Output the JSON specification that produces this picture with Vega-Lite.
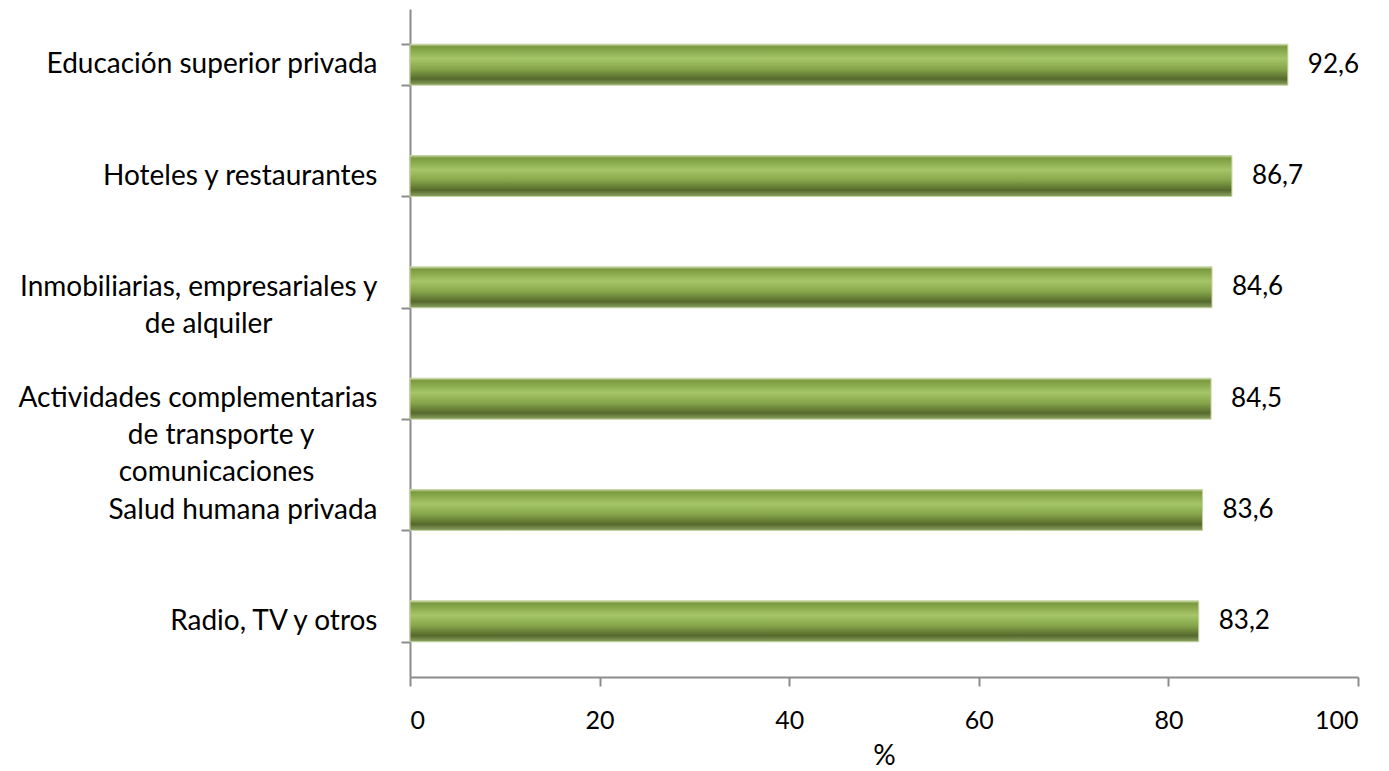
{
  "$schema": "https://vega.github.io/schema/vega-lite/v6.json",
  "width": 948,
  "height": 668,
  "autosize": "none",
  "padding": {"left": 410, "top": 9, "right": 31, "bottom": 94},
  "background": "white",
  "config": {
    "view": {"stroke": null},
    "font": "Lato",
    "locale": {"number": {"decimal": ",", "thousands": ".", "grouping": [3], "currency": ["", " €"]}}
  },
  "data": {
    "values": [
      {"sector": "Educación superior privada", "pct": 92.6},
      {"sector": "Hoteles y restaurantes", "pct": 86.7},
      {"sector": "Inmobiliarias, empresariales y de alquiler", "pct": 84.6},
      {"sector": "Actividades complementarias de transporte y comunicaciones", "pct": 84.5},
      {"sector": "Salud humana privada", "pct": 83.6},
      {"sector": "Radio, TV y otros", "pct": 83.2}
    ]
  },
  "encoding": {
    "y": {
      "field": "sector",
      "type": "nominal",
      "sort": null,
      "scale": {"paddingInner": 0.632, "paddingOuter": 0.316},
      "axis": {
        "title": null,
        "domainColor": "#8c8c8c",
        "domainWidth": 2,
        "tickColor": "#8c8c8c",
        "tickWidth": 2,
        "tickSize": 9,
        "tickBand": "extent",
        "labelFont": "Lato",
        "labelFontSize": 28,
        "labelColor": "#000000",
        "labelLineHeight": 37,
        "labelLimit": 0,
        "labelPadding": 24,
        "labelExpr": "datum.value == 'Inmobiliarias, empresariales y de alquiler' ? ['Inmobiliarias, empresariales y', 'de alquiler\u2800\u2800\u2800\u2800\u2800'] : datum.value == 'Actividades complementarias de transporte y comunicaciones' ? ['Actividades complementarias', 'de transporte y\u2800\u2800\u2800', 'comunicaciones\u2800\u2800\u2800'] : datum.value"
      }
    },
    "x": {
      "field": "pct",
      "type": "quantitative",
      "scale": {"domain": [0, 100], "nice": false},
      "axis": {
        "title": "%",
        "values": [0, 20, 40, 60, 80, 100],
        "grid": false,
        "domainColor": "#8c8c8c",
        "domainWidth": 2,
        "tickColor": "#8c8c8c",
        "tickWidth": 2,
        "tickSize": 9,
        "labelFont": "Lato",
        "labelFontSize": 25,
        "labelColor": "#000000",
        "labelPadding": 22,
        "titleFont": "Lato",
        "titleFontSize": 28,
        "titleFontWeight": "normal",
        "titleColor": "#000000",
        "titlePadding": 9
      }
    }
  },
  "layer": [
    {
      "mark": {
        "type": "bar",
        "stroke": "#c4d3a0",
        "strokeWidth": 1,
        "fill": {
          "gradient": "linear",
          "x1": 0, "y1": 0, "x2": 0, "y2": 1,
          "stops": [
            {"offset": 0, "color": "#c6d6a4"},
            {"offset": 0.06, "color": "#7b9a3f"},
            {"offset": 0.35, "color": "#a5c568"},
            {"offset": 0.6, "color": "#87a64b"},
            {"offset": 0.85, "color": "#55692c"},
            {"offset": 1, "color": "#8da463"}
          ]
        }
      }
    },
    {
      "mark": {"type": "text", "align": "left", "baseline": "middle", "dx": 20, "font": "Lato", "fontSize": 26, "color": "#000000"},
      "encoding": {"text": {"field": "pct", "type": "quantitative", "format": ".1f"}}
    }
  ]
}
